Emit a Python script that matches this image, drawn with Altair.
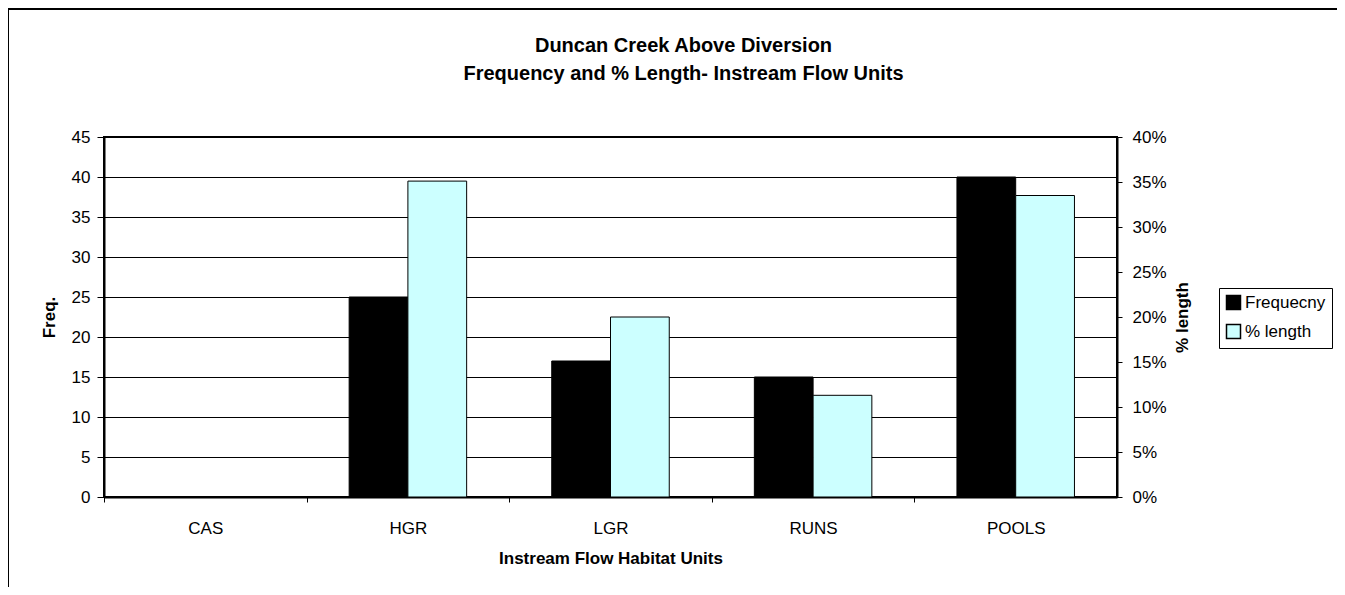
import altair as alt
import pandas as pd

# ---- data ----
categories = ["CAS", "HGR", "LGR", "RUNS", "POOLS"]
frequency = [0, 25, 17, 15, 40]
pct_length = [0.0, 0.351, 0.200, 0.113, 0.335]
series_names = ["Frequecny", "% length"]
series_colors = ["#000000", "#CCFFFF"]
freq_ticks = [0, 5, 10, 15, 20, 25, 30, 35, 40, 45]
pct_ticks = [0.0, 0.05, 0.10, 0.15, 0.20, 0.25, 0.30, 0.35, 0.40]
title_lines = ["Duncan Creek Above Diversion", "Frequency and % Length- Instream Flow Units"]

FONT = "Liberation Sans"
W, H = 1013, 360
step = W / len(categories)

df_f = pd.DataFrame({"unit": categories, "series": series_names[0], "value": frequency})
df_p = pd.DataFrame({"unit": categories, "series": series_names[1], "value": pct_length})
df_frame = pd.DataFrame({"k": [0]})

x_enc = alt.X(
    "unit:N",
    sort=categories,
    scale=alt.Scale(paddingInner=0.42, paddingOuter=0.21),
    axis=alt.Axis(
        title="Instream Flow Habitat Units",
        labelAngle=0,
        tickOffset=-step / 2,
        labelOffset=step / 2,
        tickSize=5,
        labelPadding=18,
        titlePadding=14,
        domainWidth=2,
        tickWidth=1,
    ),
)
xoff_enc = alt.XOffset("series:N", sort=series_names, scale=alt.Scale(domain=series_names))
color_enc = alt.Color(
    "series:N",
    scale=alt.Scale(domain=series_names, range=series_colors),
    legend=alt.Legend(
        title=None,
        orient="none",
        legendX=1115,
        legendY=151,
        strokeColor="black",
        fillColor="white",
        padding=6,
        symbolType="square",
        symbolSize=196,
        symbolStrokeColor="black",
        symbolStrokeWidth=1.5,
        labelFont=FONT,
        labelFontSize=17,
        labelColor="black",
        rowPadding=8,
        labelOffset=3,
    ),
)

bars_f = alt.Chart(df_f).mark_bar(stroke="#000000", strokeWidth=1).encode(
    x=x_enc,
    xOffset=xoff_enc,
    color=color_enc,
    y=alt.Y(
        "value:Q",
        scale=alt.Scale(domain=[0, 45], nice=False),
        axis=alt.Axis(
            title="Freq.",
            orient="left",
            values=freq_ticks,
            grid=True,
            gridColor="#000000",
            gridWidth=1,
            tickSize=7,
            labelPadding=7,
            titlePadding=13,
            domainWidth=2,
        ),
    ),
)

bars_p = alt.Chart(df_p).mark_bar(stroke="#000000", strokeWidth=1).encode(
    x=x_enc,
    xOffset=xoff_enc,
    color=color_enc,
    y=alt.Y(
        "value:Q",
        scale=alt.Scale(domain=[0, 0.4], nice=False),
        axis=alt.Axis(
            title="% length",
            orient="right",
            format=".0%",
            values=pct_ticks,
            grid=False,
            tickSize=5,
            labelPadding=10,
            titlePadding=8,
            titleAngle=270,
            titleBaseline="top",
            domainWidth=2,
        ),
    ),
)

frame = alt.Chart(df_frame).mark_rect(fillOpacity=0, stroke="#000000", strokeWidth=2).encode(
    x=alt.value(-96), x2=alt.value(W + 400), y=alt.value(-128), y2=alt.value(H + 300)
)

chart = (
    alt.layer(bars_f, bars_p, frame)
    .resolve_scale(y="independent")
    .properties(
        width=W,
        height=H,
        padding={"left": 96, "top": 129, "right": 220, "bottom": 90},
        autosize=alt.AutoSizeParams(type="none"),
        title=alt.TitleParams(
            text=title_lines,
            font=FONT,
            fontSize=20,
            fontWeight="bold",
            color="black",
            anchor="middle",
            lineHeight=28,
            offset=0,
            dy=76,
            dx=73,
        ),
    )
    .configure_view(stroke="#000000", strokeWidth=2)
    .configure_axis(
        labelFont=FONT,
        labelFontSize=17,
        labelColor="#000000",
        titleFont=FONT,
        titleFontSize=17,
        titleFontWeight="bold",
        titleColor="#000000",
        tickColor="#000000",
        domainColor="#000000",
    )
)

chart.save("out.html", embed_options={"renderer": "svg", "actions": False})
